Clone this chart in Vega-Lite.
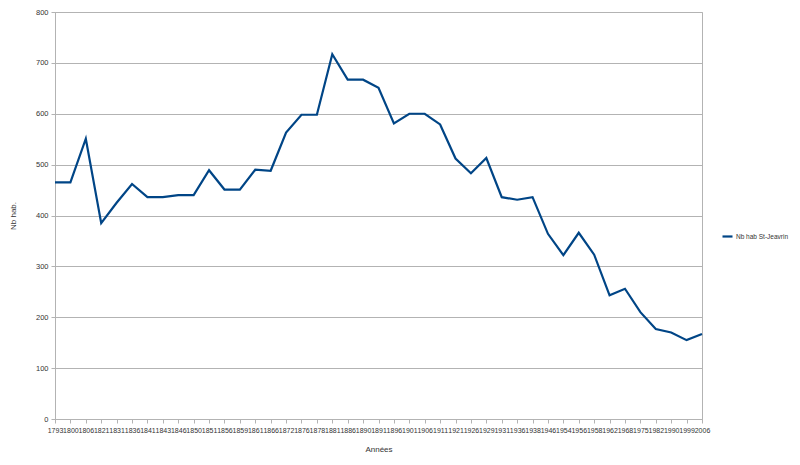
{
  "$schema": "https://vega.github.io/schema/vega-lite/v6.json",
  "width": 647,
  "height": 407,
  "autosize": {"type": "none"},
  "padding": {"left": 55, "top": 12, "right": 98, "bottom": 46},
  "background": "white",
  "config": {
    "view": {"stroke": "#b3b3b3", "strokeWidth": 1},
    "font": "Liberation Sans"
  },
  "data": {
    "values": [
      {"annee": "1793", "hab": 465}, {"annee": "1800", "hab": 465}, {"annee": "1806", "hab": 551},
      {"annee": "1821", "hab": 385}, {"annee": "1831", "hab": 425}, {"annee": "1836", "hab": 462},
      {"annee": "1841", "hab": 436}, {"annee": "1843", "hab": 436}, {"annee": "1846", "hab": 440},
      {"annee": "1850", "hab": 440}, {"annee": "1851", "hab": 489}, {"annee": "1856", "hab": 451},
      {"annee": "1859", "hab": 451}, {"annee": "1861", "hab": 490}, {"annee": "1866", "hab": 488},
      {"annee": "1872", "hab": 563}, {"annee": "1876", "hab": 598}, {"annee": "1878", "hab": 598},
      {"annee": "1881", "hab": 717}, {"annee": "1886", "hab": 667}, {"annee": "1890", "hab": 667},
      {"annee": "1891", "hab": 651}, {"annee": "1896", "hab": 581}, {"annee": "1901", "hab": 600},
      {"annee": "1906", "hab": 600}, {"annee": "1911", "hab": 579}, {"annee": "1921", "hab": 512},
      {"annee": "1926", "hab": 483}, {"annee": "1929", "hab": 513}, {"annee": "1931", "hab": 436},
      {"annee": "1936", "hab": 431}, {"annee": "1938", "hab": 436}, {"annee": "1946", "hab": 364},
      {"annee": "1954", "hab": 322}, {"annee": "1956", "hab": 366}, {"annee": "1958", "hab": 323},
      {"annee": "1962", "hab": 243}, {"annee": "1968", "hab": 256}, {"annee": "1975", "hab": 210},
      {"annee": "1982", "hab": 177}, {"annee": "1990", "hab": 170}, {"annee": "1999", "hab": 155},
      {"annee": "2006", "hab": 167}
    ]
  },
  "transform": [{"calculate": "'Nb hab St-Jeavrin'", "as": "serie"}],
  "mark": {"type": "line", "strokeWidth": 2.2, "strokeJoin": "miter"},
  "encoding": {
    "x": {
      "field": "annee", "type": "ordinal", "sort": null,
      "scale": {"type": "point", "padding": 0},
      "axis": {
        "title": "Années", "titleFontSize": 8, "titleFontWeight": "normal", "titleColor": "#333",
        "titlePadding": 12,
        "labelAngle": 0, "labelFontSize": 7, "labelColor": "#333", "labelPadding": 3,
        "labelOverlap": false, "labelFlush": false,
        "domainColor": "#b3b3b3", "tickColor": "#b3b3b3", "tickSize": 4, "grid": false
      }
    },
    "y": {
      "field": "hab", "type": "quantitative",
      "scale": {"domain": [0, 800], "nice": false},
      "axis": {
        "title": "Nb hab.", "titleFontSize": 8, "titleFontWeight": "normal", "titleColor": "#333",
        "titlePadding": 18,
        "values": [0, 100, 200, 300, 400, 500, 600, 700, 800],
        "labelFontSize": 7.5, "labelColor": "#333", "labelPadding": 3,
        "domainColor": "#b3b3b3", "tickColor": "#b3b3b3", "tickSize": 4,
        "gridColor": "#b3b3b3", "gridWidth": 1
      }
    },
    "color": {
      "field": "serie", "type": "nominal",
      "scale": {"range": ["#004586"]},
      "legend": {
        "title": null, "orient": "none", "legendX": 666, "legendY": 218,
        "symbolType": "stroke", "symbolSize": 100, "symbolStrokeWidth": 2.2,
        "labelFontSize": 6.5, "labelColor": "#333", "labelOffset": 2, "labelLimit": 200
      }
    }
  }
}
